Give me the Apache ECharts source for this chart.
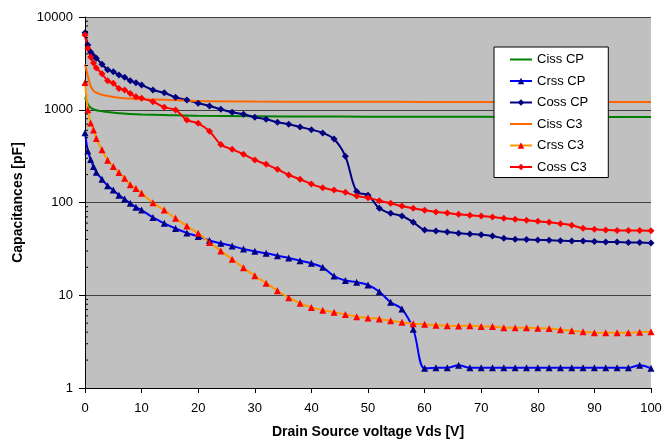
<!DOCTYPE html>
<html>
<head>
<meta charset="utf-8">
<script src="https://cdn.jsdelivr.net/npm/echarts@6/dist/echarts.min.js"></script>
<style>
  html, body { margin: 0; padding: 0; background: #fff; }
  #chart { width: 665px; height: 441px; }
</style>
</head>
<body>
<div id="chart"></div>
<script>
// x positions (V) of the measured points
const voltsPoints = [0, 0.5, 1, 1.5, 2, 3, 4, 5, 6, 7, 8, 9, 10,
  12, 14, 16, 18, 20, 22, 24, 26, 28, 30, 32, 34, 36, 38, 40, 42, 44, 46, 48, 50,
  52, 54, 56, 58, 60, 62, 64, 66, 68, 70, 72, 74, 76, 78, 80, 82, 84, 86, 88, 90,
  92, 94, 96, 98, 100]
const voltsCiss = [0, 0.5, 1, 1.5, 2, 3, 4, 6, 8, 10, 14, 20, 30, 40, 50, 60, 70, 80, 90, 100]

// capacitances [pF]
const cissCP = [1362, 1150, 1050, 1010, 990, 965, 945, 916, 900, 890, 878, 860, 850, 845, 842, 840, 838, 836, 835, 835]
const cissC3 = [3090, 2300, 1800, 1600, 1530, 1450, 1410, 1350, 1320, 1300, 1280, 1240, 1225, 1220, 1218, 1215, 1215, 1212, 1210, 1210]
const crssCP = [566, 360, 290, 245, 212, 178, 152, 136, 120, 109, 98, 89, 83,
  69, 59.6, 52.5, 47, 43, 39, 36.3, 34, 31.5, 29.8, 28.3, 26.7, 25.2, 23.6, 22.1, 20, 16.1, 14.4, 13.8, 12.9,
  10.9, 8.4, 7.1, 4.3, 1.63, 1.65, 1.65, 1.76, 1.65, 1.65, 1.65, 1.65, 1.65, 1.65, 1.65, 1.65, 1.65, 1.65, 1.65, 1.65,
  1.65, 1.65, 1.65, 1.76, 1.63]
const cossCP = [6770, 5000, 4200, 3800, 3600, 3100, 2700, 2575, 2370, 2240, 2057, 1958, 1850,
  1633, 1527, 1362, 1274, 1174, 1100, 1012, 940, 894, 829, 789, 733, 697, 652, 610, 562, 484, 315, 131, 120,
  86.5, 76.4, 71.5, 61.2, 50.5, 49.3, 48.1, 46.6, 45.7, 45, 43.5, 41.1, 40.1, 39.8, 39.5, 39.2, 38.8, 38.5, 38.5, 38,
  37.6, 37.6, 37, 37, 36.7]
const crssC3 = [1963, 1000, 720, 605, 490, 370, 285, 244, 210, 183, 155, 142, 126,
  99.6, 83, 67.5, 55.8, 46.5, 37, 30, 24.4, 19.8, 16.2, 13.5, 11.2, 9.4, 8.2, 7.4, 6.9, 6.55, 6.2, 5.87, 5.7,
  5.55, 5.3, 5.1, 4.93, 4.86, 4.74, 4.7, 4.66, 4.7, 4.6, 4.6, 4.47, 4.47, 4.45, 4.4, 4.37, 4.25, 4.15, 4.05, 3.95,
  3.95, 3.95, 3.95, 4.0, 4.05]
const cossC3 = [6400, 4600, 3700, 3190, 2820, 2450, 2050, 1930, 1700, 1633, 1500, 1383, 1328,
  1222, 1062, 994, 775, 714, 586, 421, 374, 331, 287, 258, 228, 198, 178, 158, 144, 136, 128.6, 117.5, 112.7,
  104.5, 98, 91.6, 86.5, 82.4, 79, 77, 74.6, 72.8, 71.5, 69.8, 67.6, 65.9, 64.3, 62.7, 61.2, 59.1, 56.8, 52.7, 51.4,
  50.5, 50, 50, 50, 49.7]

// minor tick values of the log axis
const minorTicks = [2, 3, 4, 5, 6, 7, 8, 9, 20, 30, 40, 50, 60, 70, 80, 90,
  200, 300, 400, 500, 600, 700, 800, 900, 2000, 3000, 4000, 5000, 6000, 7000, 8000, 9000]

const font = 'Liberation Sans, Arial, sans-serif'
const lineIcon = 'path://M0,0 L22,0 L22,2 L0,2 Z'

function pairs(xs, ys) {
  return ys.map((y, i) => [xs[i], y])
}

function lineSeries(name, xs, ys, lineColor, symbol, symbolColor) {
  return {
    name: name,
    type: 'line',
    data: pairs(xs, ys),
    smooth: 0.35,
    symbol: symbol,
    symbolSize: symbol === 'none' ? 0 : 7,
    showSymbol: symbol !== 'none',
    lineStyle: { color: lineColor, width: 2 },
    itemStyle: { color: symbolColor || lineColor },
    emphasis: { disabled: true },
    animation: false,
  }
}

const chart = echarts.init(document.getElementById('chart'))
chart.setOption({
  animation: false,
  textStyle: { fontFamily: font },
  grid: {
    left: 85, right: 14, top: 17, bottom: 53,
    outerBoundsMode: 'none',
    containLabel: false,
    show: true, backgroundColor: '#c0c0c0', borderWidth: 0,
  },
  legend: {
    data: [
      { name: 'Ciss CP', icon: lineIcon },
      { name: 'Crss CP' },
      { name: 'Coss CP' },
      { name: 'Ciss C3', icon: lineIcon },
      { name: 'Crss C3' },
      { name: 'Coss C3' },
    ],
    orient: 'vertical',
    left: 494, top: 47,
    backgroundColor: '#fff',
    borderColor: '#000', borderWidth: 1, borderRadius: 0,
    padding: [5, 20, 3, 15],
    itemWidth: 22, itemHeight: 8, itemGap: 6.5,
    textStyle: { fontFamily: font, fontSize: 13, color: '#000', lineHeight: 15 },
  },
  xAxis: {
    type: 'value',
    min: 0, max: 100, interval: 10,
    name: 'Drain Source voltage Vds [V]',
    nameLocation: 'middle', nameGap: 37,
    nameTextStyle: { fontFamily: font, fontSize: 14, fontWeight: 'bold', color: '#000' },
    axisLine: { lineStyle: { color: '#000', width: 1 } },
    axisTick: { show: true, length: 5, lineStyle: { color: '#000' } },
    axisLabel: { fontFamily: font, fontSize: 13, color: '#000', margin: 14 },
    splitLine: { show: false },
  },
  yAxis: {
    type: 'log', logBase: 10,
    min: 1, max: 10000,
    name: 'Capacitances [pF]',
    nameLocation: 'middle', nameGap: 60,
    nameTextStyle: { fontFamily: font, fontSize: 14, fontWeight: 'bold', color: '#000' },
    axisLine: { show: true, lineStyle: { color: '#000', width: 1 } },
    axisTick: { show: true, length: 6, lineStyle: { color: '#000' } },
    axisLabel: {
      fontFamily: font, fontSize: 13, color: '#000', margin: 12,
      formatter: (v) => String(Math.round(v)),
    },
    splitLine: { show: true, lineStyle: { color: '#404040', width: 1 } },
  },
  series: [
    lineSeries('Ciss CP', voltsCiss, cissCP, '#008000', 'none'),
    lineSeries('Crss CP', voltsPoints, crssCP, '#0000ff', 'triangle', '#000080'),
    lineSeries('Coss CP', voltsPoints, cossCP, '#000080', 'diamond'),
    lineSeries('Ciss C3', voltsCiss, cissC3, '#ff6600', 'none'),
    lineSeries('Crss C3', voltsPoints, crssC3, '#ff9900', 'triangle', '#ff0000'),
    lineSeries('Coss C3', voltsPoints, cossC3, '#ff0000', 'diamond'),
    {
      // minor ticks of the log axis, drawn just inside the axis line
      type: 'custom',
      silent: true,
      clip: false,
      z: 10,
      data: minorTicks.map((v) => [0, v]),
      renderItem: (params, api) => {
        const p = api.coord([0, api.value(1)])
        return {
          type: 'line',
          shape: { x1: p[0], y1: p[1], x2: p[0] + 3, y2: p[1] },
          style: { stroke: '#000', lineWidth: 1 },
        }
      },
    },
  ],
})
</script>
</body>
</html>
